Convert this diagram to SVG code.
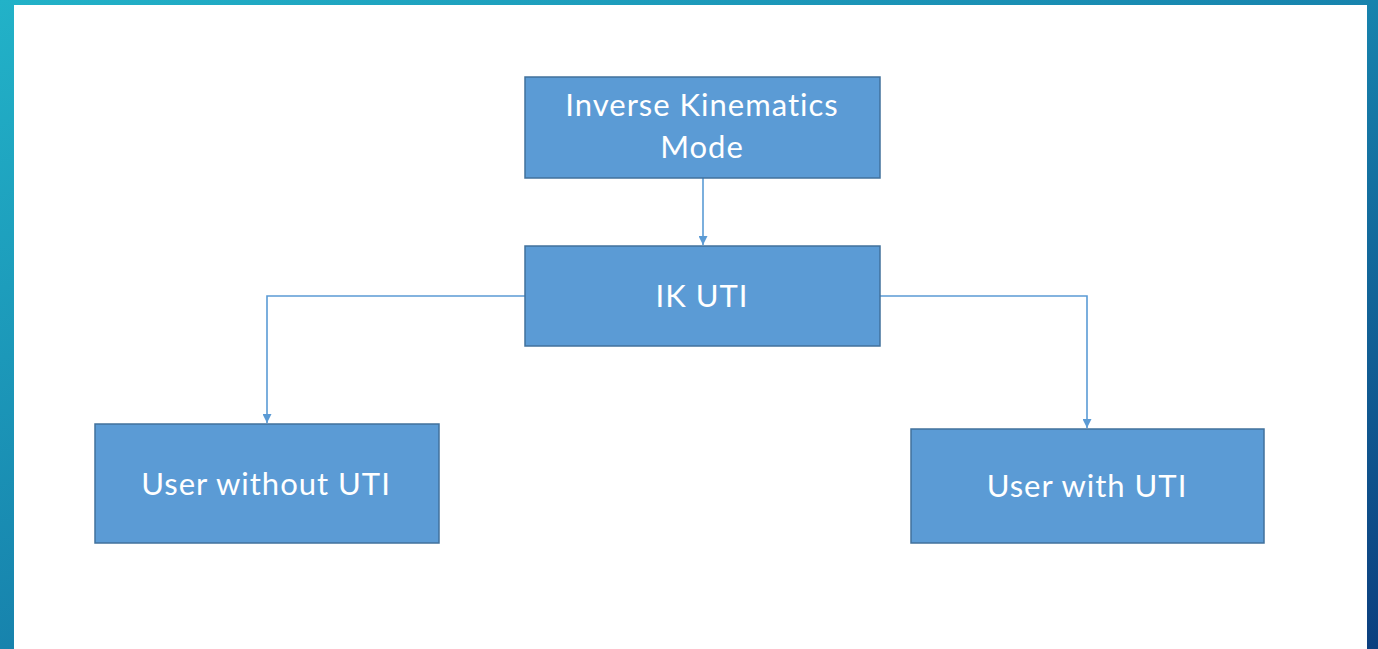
<svg xmlns="http://www.w3.org/2000/svg" width="1378" height="649" viewBox="0 0 1378 649">
  <defs>
    <linearGradient id="bg" x1="0" y1="0" x2="1" y2="1">
      <stop offset="0" stop-color="#22b2c8"/>
      <stop offset="0.5" stop-color="#1783ad"/>
      <stop offset="1" stop-color="#0c3f7f"/>
    </linearGradient>
    <marker id="arr" viewBox="0 0 10 10" refX="10" refY="5" markerWidth="10" markerHeight="9" orient="auto" markerUnits="userSpaceOnUse">
      <path d="M0,0 L10,5 L0,10 Z" fill="#5b9bd5"/>
    </marker>
  </defs>
  <style>
    .box { fill: #5b9bd5; stroke: #41719c; stroke-width: 1.5; }
    .lbl { fill: #ffffff; font-family: Lato, "Open Sans", "Liberation Sans", sans-serif; font-size: 31px; letter-spacing: 1px; text-anchor: middle; }
    .conn { fill: none; stroke: #5b9bd5; stroke-width: 1.6; }
  </style>
  <rect x="0" y="0" width="1378" height="649" fill="url(#bg)"/>
  <rect x="14" y="5" width="1353" height="644" fill="#ffffff"/>
  <g id="connectors">
    <path class="conn" d="M703,178 L703,245" marker-end="url(#arr)"/>
    <path class="conn" d="M525,296 L267,296 L267,423" marker-end="url(#arr)"/>
    <path class="conn" d="M880,296 L1087,296 L1087,428" marker-end="url(#arr)"/>
  </g>
  <g id="node-ik-mode">
    <rect class="box" x="525" y="77" width="355" height="101"/>
    <text class="lbl" x="702" y="116">Inverse Kinematics</text>
    <text class="lbl" x="702" y="158">Mode</text>
  </g>
  <g id="node-ik-uti">
    <rect class="box" x="525" y="246" width="355" height="100"/>
    <text class="lbl" x="702" y="307">IK UTI</text>
  </g>
  <g id="node-user-without">
    <rect class="box" x="95" y="424" width="344" height="119"/>
    <text class="lbl" x="266" y="495">User without UTI</text>
  </g>
  <g id="node-user-with">
    <rect class="box" x="911" y="429" width="353" height="114"/>
    <text class="lbl" x="1087" y="497">User with UTI</text>
  </g>
</svg>
